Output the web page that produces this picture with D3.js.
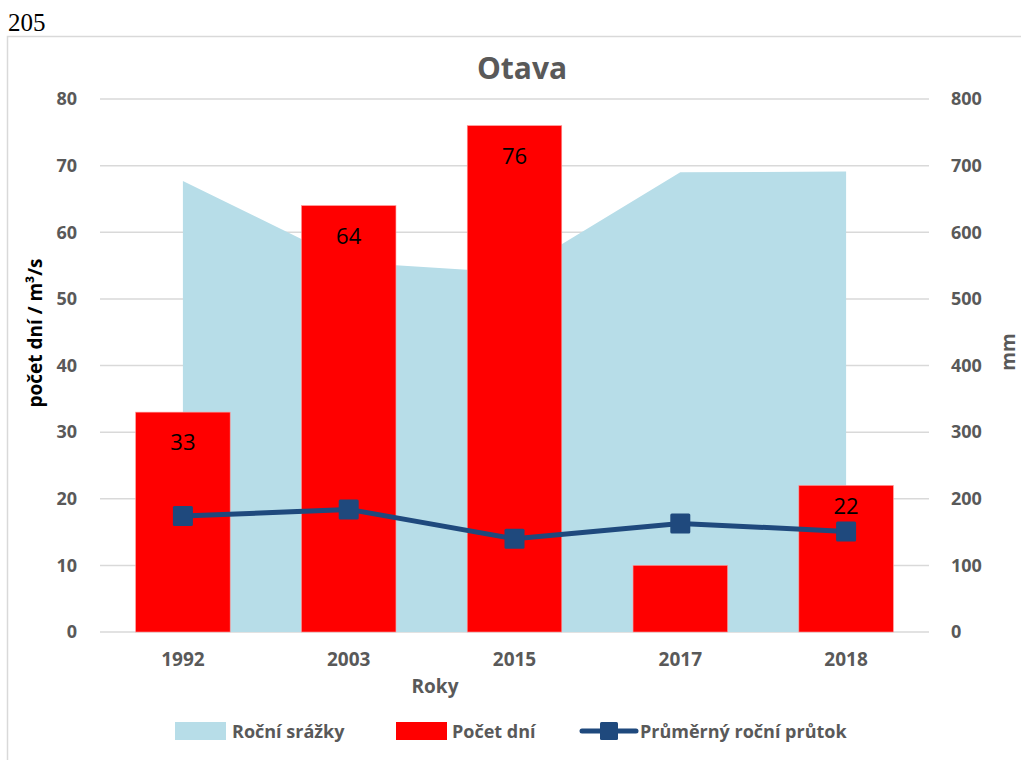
<!DOCTYPE html>
<html>
<head>
<meta charset="utf-8">
<script src="https://cdn.jsdelivr.net/npm/d3@7"></script>
<style>
  body { margin: 0; background: #fff; }
  svg { display: block; }
  text { font-family: "Open Sans", "Noto Sans", sans-serif; }
</style>
</head>
<body>
<div class="chart-container"></div>
<script>
/* Otava - data
   ========================================================================== */
var years = ["1992", "2003", "2015", "2017", "2018"];
var srazky = [677, 555, 539, 690, 691];        // Roční srážky (mm, right axis)
var pocetDni = [33, 64, 76, 10, 22];           // Počet dní (left axis)
var prutok = [17.4, 18.4, 14.0, 16.3, 15.1];   // Průměrný roční průtok (m3/s, left axis)
var leftTicks = [0, 10, 20, 30, 40, 50, 60, 70, 80];
var rightTicks = [0, 100, 200, 300, 400, 500, 600, 700, 800];
var labelled = ["1992", "2003", "2015", "2018"];
// label shift below bar top (the 2018 label was nudged up in the original)
var labelShift = { "1992": 38, "2003": 38, "2015": 38, "2018": 29 };

var W = 1021, H = 760;
var plot = { left: 100, right: 929, top: 99, bottom: 632 };

var svg = d3.select('.chart-container').append("svg")
    .attr("width", W)
    .attr("height", H);

// page number and chart frame
svg.append("text")
    .attr("x", 8).attr("y", 31)
    .style("font-family", "'Liberation Serif', serif")
    .style("font-size", "25px")
    .text("205");

svg.append("rect")
    .attr("x", 7.5).attr("y", 36.5)
    .attr("width", 1030).attr("height", 740)
    .attr("fill", "none")
    .attr("stroke", "#d9d9d9")
    .attr("stroke-width", 1.5);

// Scales
var xBand = d3.scaleBand()
    .domain(years)
    .range([plot.left, plot.right])
    .paddingInner(0.43)
    .paddingOuter(0.215);
var xc = function(d) { return xBand(d) + xBand.bandwidth() / 2; };

var yL = d3.scaleLinear().domain([0, 80]).range([plot.bottom, plot.top]);
var yR = d3.scaleLinear().domain([0, 800]).range([plot.bottom, plot.top]);

// Gridlines
svg.append("g")
    .selectAll("line")
    .data(leftTicks)
    .enter().append("line")
    .attr("x1", plot.left).attr("x2", plot.right)
    .attr("y1", function(d) { return yL(d); })
    .attr("y2", function(d) { return yL(d); })
    .attr("stroke", "#d9d9d9")
    .attr("stroke-width", 1.5);

// Area - Roční srážky
var area = d3.area()
    .x(function(d, i) { return xc(years[i]); })
    .y0(yR(0))
    .y1(function(d) { return yR(d); });

svg.append("path")
    .datum(srazky)
    .attr("d", area)
    .attr("fill", "#b7dde8");

// Bars - Počet dní
svg.selectAll(".bar")
    .data(pocetDni)
    .enter().append("rect")
    .attr("class", "bar")
    .attr("x", function(d, i) { return xBand(years[i]); })
    .attr("width", xBand.bandwidth())
    .attr("y", function(d) { return yL(d); })
    .attr("height", function(d) { return yL(0) - yL(d); })
    .attr("fill", "#ff0000")
    .attr("stroke", "#ff9a9a")
    .attr("stroke-width", 0.6);

// Line - Průměrný roční průtok
var line = d3.line()
    .x(function(d, i) { return xc(years[i]); })
    .y(function(d) { return yL(d); });

svg.append("path")
    .datum(prutok)
    .attr("d", line)
    .attr("fill", "none")
    .attr("stroke", "#1f497d")
    .attr("stroke-width", 5)
    .attr("stroke-linejoin", "round");

svg.selectAll(".marker")
    .data(prutok)
    .enter().append("rect")
    .attr("class", "marker")
    .attr("x", function(d, i) { return xc(years[i]) - 10; })
    .attr("y", function(d) { return yL(d) - 10; })
    .attr("width", 20).attr("height", 20)
    .attr("rx", 1.5)
    .attr("fill", "#1f497d");

// Data labels (inside end)
svg.selectAll(".dlabel")
    .data(labelled)
    .enter().append("text")
    .attr("class", "dlabel")
    .attr("x", function(d) { return xc(d); })
    .attr("y", function(d) { return yL(pocetDni[years.indexOf(d)]) + labelShift[d]; })
    .attr("text-anchor", "middle")
    .style("font-size", "22px")
    .style("fill", "#000")
    .text(function(d) { return pocetDni[years.indexOf(d)]; });

// Axes
var axisStyle = function(g) {
    g.select(".domain").remove();
    g.selectAll("line").remove();
    g.selectAll("text")
        .style("font-size", "18px")
        .style("font-weight", "bold")
        .style("fill", "#595959");
};

svg.append("g")
    .attr("transform", "translate(" + (plot.left - 3) + ",0)")
    .call(d3.axisLeft(yL).tickValues(leftTicks).tickSize(0).tickPadding(20))
    .call(axisStyle);

svg.append("g")
    .attr("transform", "translate(" + (plot.right + 3) + ",0)")
    .call(d3.axisRight(yR).tickValues(rightTicks).tickSize(0).tickPadding(19))
    .call(axisStyle);

svg.append("g")
    .attr("transform", "translate(0," + plot.bottom + ")")
    .call(d3.axisBottom(xBand).tickSize(0).tickPadding(21))
    .call(axisStyle)
    .selectAll("text").style("font-size", "19px");

// Titles
svg.append("text")
    .attr("x", 522).attr("y", 79)
    .attr("text-anchor", "middle")
    .style("font-size", "30px")
    .style("font-weight", "bold")
    .style("fill", "#595959")
    .text("Otava");

svg.append("text")
    .attr("transform", "translate(42,333) rotate(-90)")
    .attr("text-anchor", "middle")
    .style("font-size", "19px")
    .style("font-weight", "bold")
    .style("fill", "#000")
    .text("počet dní / m³/s");

svg.append("text")
    .attr("transform", "translate(1015,352) rotate(-90)")
    .attr("text-anchor", "middle")
    .style("font-size", "19px")
    .style("font-weight", "bold")
    .style("fill", "#595959")
    .text("mm");

svg.append("text")
    .attr("x", 435).attr("y", 693)
    .attr("text-anchor", "middle")
    .style("font-size", "19px")
    .style("font-weight", "bold")
    .style("fill", "#595959")
    .text("Roky");

// Legend
var legend = svg.append("g").attr("transform", "translate(0,731)");

legend.append("rect")
    .attr("x", 175).attr("y", -9).attr("width", 51).attr("height", 18)
    .attr("fill", "#b7dde8");
legend.append("text")
    .attr("x", 232).attr("y", 6.5)
    .style("font-size", "18px").style("font-weight", "bold").style("fill", "#595959")
    .text("Roční srážky");

legend.append("rect")
    .attr("x", 396).attr("y", -9).attr("width", 51).attr("height", 18)
    .attr("fill", "#ff0000");
legend.append("text")
    .attr("x", 452).attr("y", 6.5)
    .style("font-size", "18px").style("font-weight", "bold").style("fill", "#595959")
    .text("Počet dní");

legend.append("line")
    .attr("x1", 582).attr("x2", 636).attr("y1", 0).attr("y2", 0)
    .attr("stroke", "#1f497d").attr("stroke-width", 5).attr("stroke-linecap", "round");
legend.append("rect")
    .attr("x", 600).attr("y", -9).attr("width", 18).attr("height", 18)
    .attr("rx", 1.5)
    .attr("fill", "#1f497d");
legend.append("text")
    .attr("x", 640).attr("y", 6.5)
    .style("font-size", "18px").style("font-weight", "bold").style("fill", "#595959")
    .text("Průměrný roční průtok");
</script>
</body>
</html>
